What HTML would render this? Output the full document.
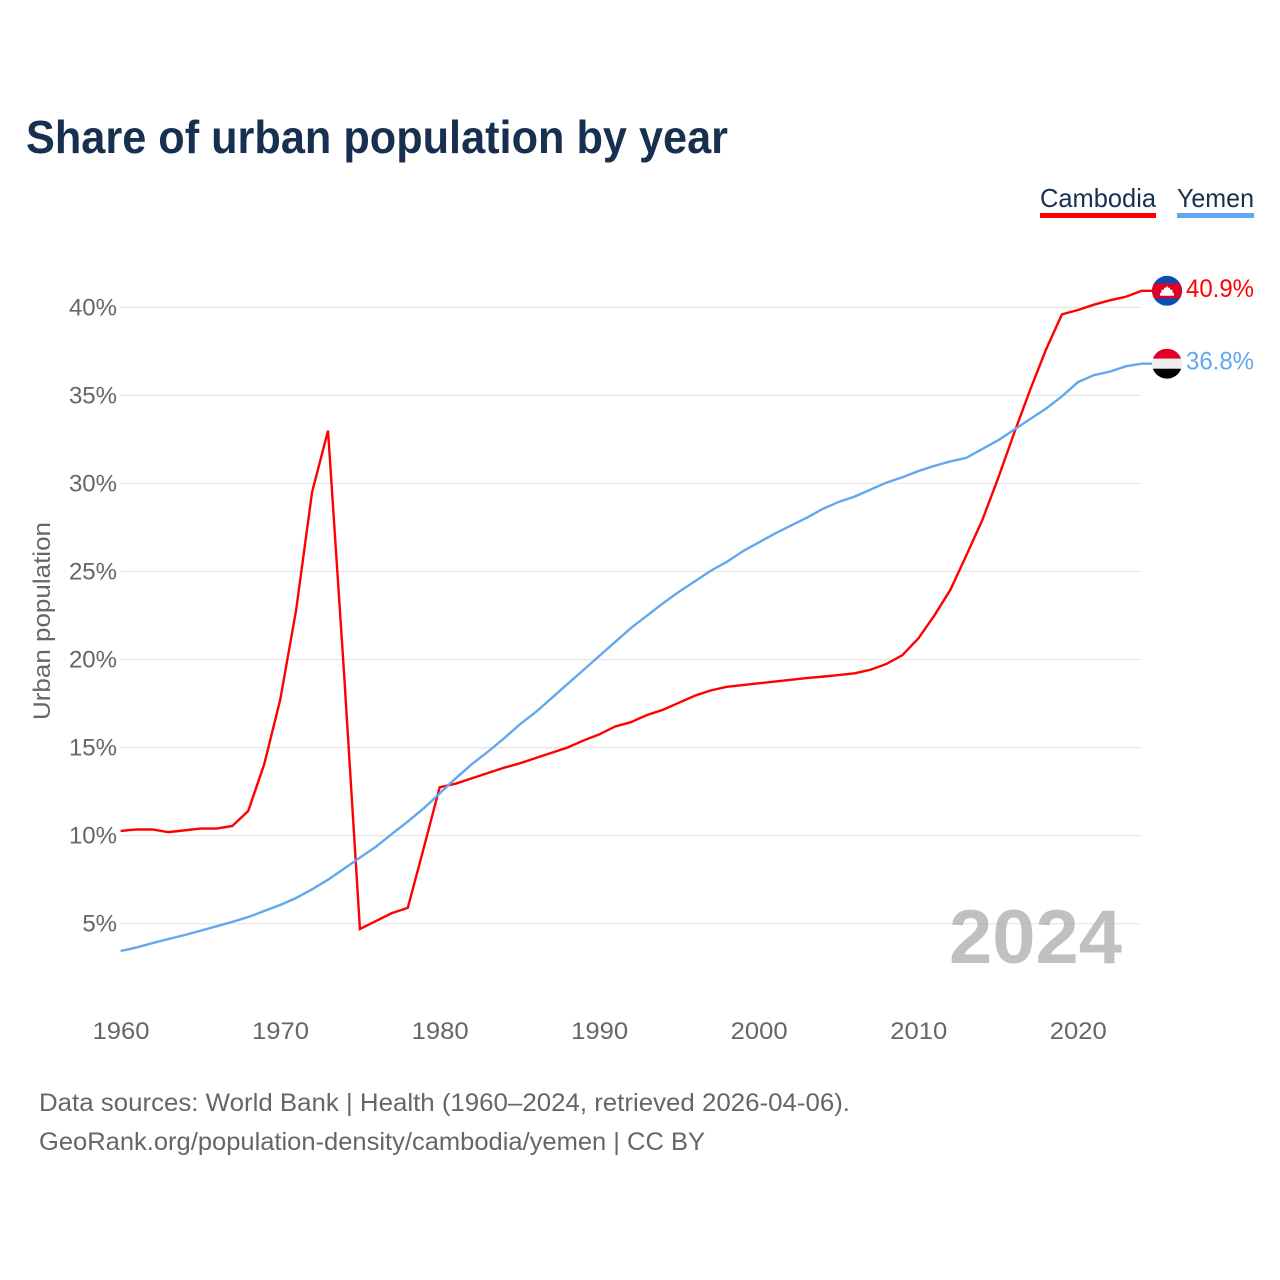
<!DOCTYPE html>
<html lang="en">
<head>
<meta charset="utf-8">
<title>Share of urban population by year</title>
<style>
html,body{margin:0;padding:0;background:#fff;}
svg{display:block;font-family:"Liberation Sans",sans-serif;}
</style>
</head>
<body>
<svg id="chart" xmlns="http://www.w3.org/2000/svg" width="1280" height="1280" viewBox="0 0 1280 1280">
  <defs>
    <clipPath id="flag-clip"><circle cx="0" cy="0" r="15"/></clipPath>
  </defs>
  <rect width="1280" height="1280" fill="#fff"/>
  <text x="26" y="153" font-size="46" font-weight="700" fill="#18304f" textLength="702" lengthAdjust="spacingAndGlyphs">Share of urban population by year</text>

  <g>
    <g>
      <text x="1040" y="207" font-size="26" fill="#18304f" textLength="116" lengthAdjust="spacingAndGlyphs">Cambodia</text>
      <rect x="1040" y="213" width="116" height="5" fill="#ff0000"/>
    </g>
    <g>
      <text x="1177" y="207" font-size="26" fill="#18304f" textLength="77" lengthAdjust="spacingAndGlyphs">Yemen</text>
      <rect x="1177" y="213" width="77" height="5" fill="#62a8ee"/>
    </g>
  </g>

  <g id="grid"></g>
  <text x="949" y="963" font-size="76" font-weight="700" fill="#a8a8a8" fill-opacity="0.72" textLength="173" lengthAdjust="spacingAndGlyphs">2024</text>
  <g id="yticks"></g>
  <g id="xticks"></g>
  <text transform="translate(50,621) rotate(-90)" text-anchor="middle" font-size="24" fill="#666" textLength="198" lengthAdjust="spacingAndGlyphs">Urban population</text>

  <g id="series"></g>

  <g id="flag-cambodia">
    <g clip-path="url(#flag-clip)">
      <rect x="-15" y="-15" width="30" height="30" fill="#0a4fb0"/>
      <rect x="-15" y="-7.5" width="30" height="15" fill="#e00025"/>
      <path d="M-7 5 L-7 2 L-5.5 2 L-5.5 -1 L-3 -1 L-3 -3 L-1 -3 L0 -5 L1 -3 L3 -3 L3 -1 L5.5 -1 L5.5 2 L7 2 L7 5 Z" fill="#fff"/>
    </g>
  </g>
  <g id="flag-yemen">
    <g clip-path="url(#flag-clip)">
      <rect x="-15" y="-15" width="30" height="10" fill="#e00025"/>
      <rect x="-15" y="-5" width="30" height="10" fill="#eeeeee"/>
      <rect x="-15" y="5" width="30" height="10" fill="#000"/>
    </g>
  </g>
  <text id="value-cambodia" x="1186" font-size="25" fill="#ff0000" textLength="68" lengthAdjust="spacingAndGlyphs"></text>
  <text id="value-yemen" x="1186" font-size="25" fill="#62a8ee" textLength="68" lengthAdjust="spacingAndGlyphs"></text>

  <text x="39" y="1111" font-size="25" fill="#666" textLength="811" lengthAdjust="spacingAndGlyphs">Data sources: World Bank | Health (1960–2024, retrieved 2026-04-06).</text>
  <text x="39" y="1150" font-size="25" fill="#666" textLength="666" lengthAdjust="spacingAndGlyphs">GeoRank.org/population-density/cambodia/yemen | CC BY</text>
</svg>
<script>
const startYear = 1960;
const cambodiaValues = [10.27,10.35,10.35,10.2,10.3,10.4,10.4,10.55,11.4,14.05,17.7,22.8,29.5,33.0,19.3,4.7,5.15,5.6,5.9,9.3,12.75,12.95,13.25,13.55,13.85,14.1,14.4,14.7,15.0,15.4,15.75,16.2,16.45,16.85,17.15,17.55,17.95,18.25,18.45,18.55,18.65,18.75,18.85,18.95,19.03,19.12,19.22,19.42,19.75,20.25,21.2,22.5,23.95,25.9,27.9,30.3,32.85,35.3,37.6,39.6,39.85,40.15,40.4,40.6,40.94];
const yemenValues = [3.45,3.65,3.9,4.13,4.35,4.6,4.85,5.1,5.38,5.72,6.06,6.46,6.95,7.5,8.12,8.75,9.37,10.1,10.8,11.55,12.4,13.25,14.05,14.75,15.5,16.3,17.0,17.8,18.6,19.4,20.2,21.0,21.8,22.5,23.2,23.85,24.45,25.05,25.55,26.15,26.65,27.15,27.6,28.05,28.55,28.95,29.25,29.65,30.05,30.35,30.7,31.0,31.25,31.45,31.95,32.45,33.05,33.65,34.25,34.95,35.75,36.15,36.35,36.65,36.8];
const yTickValues = [5,10,15,20,25,30,35,40];
const yTickLabels = ["5%","10%","15%","20%","25%","30%","35%","40%"];
const xTickValues = [1960,1970,1980,1990,2000,2010,2020];
const xTickLabels = ["1960","1970","1980","1990","2000","2010","2020"];

const NS = "http://www.w3.org/2000/svg";
function xScale(year){ return 120.6 + (year - 1960) * 15.955; }
function yScale(v){ return 923.7 - (v - 5) * 17.61; }

const grid = document.getElementById("grid");
const yticks = document.getElementById("yticks");
yTickValues.forEach(function(v, i){
  const line = document.createElementNS(NS, "line");
  
  
  line.setAttribute("x1", 121);
  line.setAttribute("x2", 1141);
  line.setAttribute("y1", yScale(v));
  line.setAttribute("y2", yScale(v));
  line.setAttribute("stroke", "#e6e6e6");
  line.setAttribute("stroke-width", "1.2");
  grid.appendChild(line);
  const t = document.createElementNS(NS, "text");
  
  
  t.setAttribute("x", 117);
  t.setAttribute("y", yScale(v) + 8);
  t.setAttribute("text-anchor", "end");
  t.setAttribute("font-size", "24");
  t.setAttribute("fill", "#666");
  t.textContent = yTickLabels[i];
  yticks.appendChild(t);
});

const xticks = document.getElementById("xticks");
xTickValues.forEach(function(y, i){
  const t = document.createElementNS(NS, "text");
  
  
  t.setAttribute("x", xScale(y) + 0.4);
  t.setAttribute("y", 1039);
  t.setAttribute("text-anchor", "middle");
  t.setAttribute("font-size", "24");
  t.setAttribute("fill", "#666");
  t.setAttribute("textLength", "57");
  t.setAttribute("lengthAdjust", "spacingAndGlyphs");
  t.textContent = xTickLabels[i];
  xticks.appendChild(t);
});

function seriesPoints(values){
  const pts = values.map(function(v, i){ return xScale(startYear + i).toFixed(2) + "," + yScale(v).toFixed(2); });
  const last = values[values.length - 1];
  pts.push("1152," + yScale(last).toFixed(2));
  return pts.join(" ");
}

const series = document.getElementById("series");
const lineCambodia = document.createElementNS(NS, "polyline");


lineCambodia.setAttribute("points", seriesPoints(cambodiaValues));
lineCambodia.setAttribute("fill", "none");
lineCambodia.setAttribute("stroke", "#ff0000");
lineCambodia.setAttribute("stroke-width", "2.4");
lineCambodia.setAttribute("stroke-linejoin", "miter");
series.appendChild(lineCambodia);
const lineYemen = document.createElementNS(NS, "polyline");


lineYemen.setAttribute("points", seriesPoints(yemenValues));
lineYemen.setAttribute("fill", "none");
lineYemen.setAttribute("stroke", "#62a8ee");
lineYemen.setAttribute("stroke-width", "2.4");
series.appendChild(lineYemen);

const lastC = cambodiaValues[cambodiaValues.length - 1];
const lastY = yemenValues[yemenValues.length - 1];
document.getElementById("flag-cambodia").setAttribute("transform", "translate(1167," + yScale(lastC) + ")");
document.getElementById("flag-yemen").setAttribute("transform", "translate(1167," + yScale(lastY) + ")");
const vc = document.getElementById("value-cambodia");
vc.setAttribute("y", yScale(lastC) + 6);
vc.textContent = lastC.toFixed(1) + "%";
const vy = document.getElementById("value-yemen");
vy.setAttribute("y", yScale(lastY) + 6);
vy.textContent = lastY.toFixed(1) + "%";
</script>
</body>
</html>
